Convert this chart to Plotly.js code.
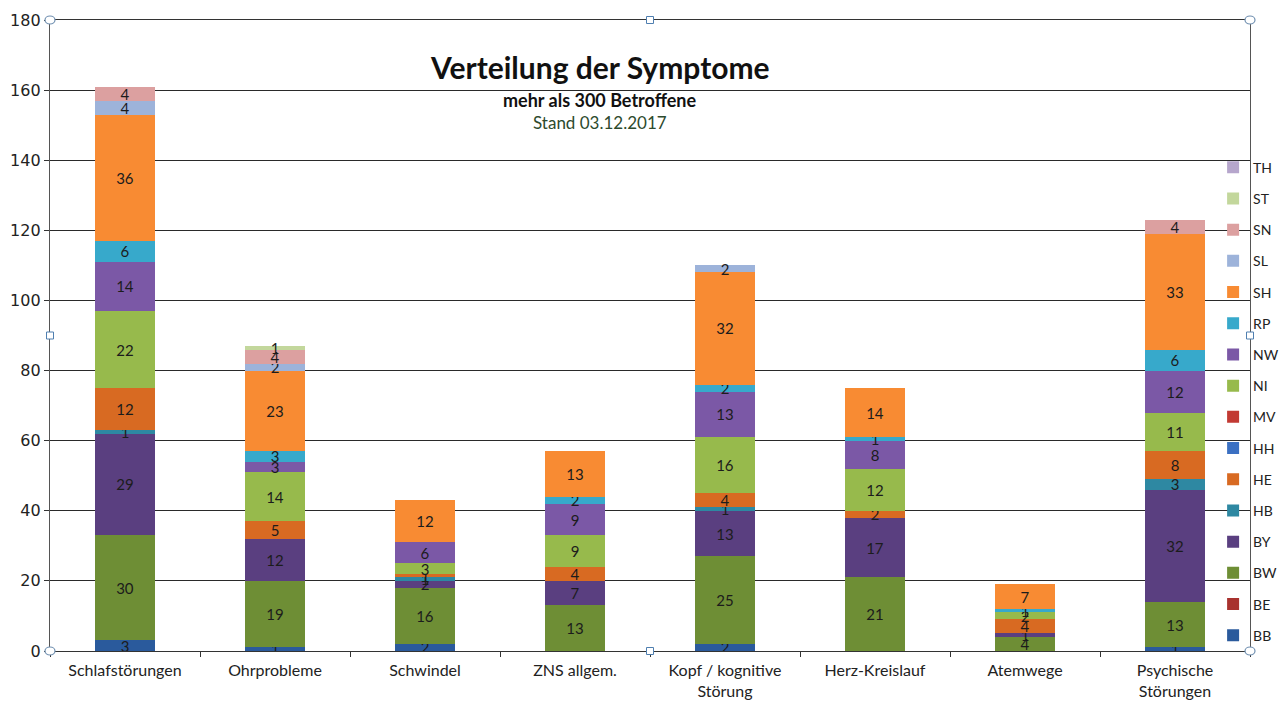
<!DOCTYPE html>
<html>
<head>
<meta charset="utf-8">
<script src="https://cdn.plot.ly/plotly-3.0.1.min.js"></script>
<style>html,body{margin:0;padding:0;background:#fff;}#chart{width:1281px;height:702px;}</style>
</head>
<body>
<div id="chart"></div>
<script>
// Categories (symptom groups)
const categories = ["Schlafstörungen", "Ohrprobleme", "Schwindel", "ZNS allgem.", "Kopf / kognitive<br>Störung", "Herz-Kreislauf", "Atemwege", "Psychische<br>Störungen"];

// Series (federal states), bottom to top in the stack
const seriesNames = ["BB","BE","BW","BY","HB","HE","HH","MV","NI","NW","RP","SH","SL","SN","ST","TH"];
const BB = [3, 1, 2, null, 2, null, null, 1];
const BE = [null, null, null, null, null, null, null, null];
const BW = [30, 19, 16, 13, 25, 21, 4, 13];
const BY = [29, 12, 2, 7, 13, 17, 1, 32];
const HB = [1, null, 1, null, 1, null, null, 3];
const HE = [12, 5, 1, 4, 4, 2, 4, 8];
const HH = [null, null, null, null, null, null, null, null];
const MV = [null, null, null, null, null, null, null, null];
const NI = [22, 14, 3, 9, 16, 12, 2, 11];
const NW = [14, 3, 6, 9, 13, 8, null, 12];
const RP = [6, 3, null, 2, 2, 1, 1, 6];
const SH = [36, 23, 12, 13, 32, 14, 7, 33];
const SL = [4, 2, null, null, 2, null, null, null];
const SN = [4, 4, null, null, null, null, null, 4];
const ST = [null, 1, null, null, null, null, null, null];
const TH = [null, null, null, null, null, null, null, null];
const seriesValues = {BB, BE, BW, BY, HB, HE, HH, MV, NI, NW, RP, SH, SL, SN, ST, TH};

const yTicks = [0, 20, 40, 60, 80, 100, 120, 140, 160, 180];

const colors = {
  BB: "#2A5A9C", BE: "#A8322E", BW: "#6E8E35", BY: "#5A3F80", HB: "#2E88A2",
  HE: "#D86A22", HH: "#3B70C2", MV: "#C23A33", NI: "#97BA4C", NW: "#7B58A6",
  RP: "#37A9CB", SH: "#F88B33", SL: "#9DB3DA", SN: "#DCA0A0", ST: "#C3D79C", TH: "#B6A6CC"
};

const font = "Lato, 'Open Sans', sans-serif";

const traces = seriesNames.map((name, i) => ({
  type: "bar",
  name: name,
  x: categories,
  y: seriesValues[name],
  text: seriesValues[name].map(v => v == null ? "" : String(v)),
  textposition: "inside",
  insidetextanchor: "middle",
  textangle: 0,
  constraintext: "none",
  textfont: {family: font, size: 15, color: "#1c1c1c"},
  marker: {color: colors[name], line: {width: 0}},
  legendgroup: "g" + i,
  legendrank: 100 - i,
  hoverinfo: "name+y"
}));

function handle(xp, yp, kind) {
  if (kind === "c") {
    return {type: "circle", xref: "paper", yref: "paper", xsizemode: "pixel", ysizemode: "pixel",
      xanchor: xp, yanchor: yp, x0: -5, x1: 5, y0: -4, y1: 4,
      line: {color: "#6f8fb0", width: 1.2}, fillcolor: "#ffffff", layer: "above"};
  }
  return {type: "rect", xref: "paper", yref: "paper", xsizemode: "pixel", ysizemode: "pixel",
    xanchor: xp, yanchor: yp, x0: -3.5, x1: 3.5, y0: -3.5, y1: 3.5,
    line: {color: "#4f7fb0", width: 1}, fillcolor: "#ffffff", layer: "above"};
}

const layout = {
  width: 1281, height: 702,
  margin: {l: 50, r: 31, t: 20, b: 51, autoexpand: false},
  paper_bgcolor: "#ffffff", plot_bgcolor: "#ffffff",
  barmode: "stack",
  bargap: 0.6,
  font: {family: font, size: 14, color: "#222"},
  showlegend: true,
  legend: {
    xref: "container", yref: "container",
    x: 0.947, xanchor: "left", y: 0.784, yanchor: "top",
    bgcolor: "rgba(0,0,0,0)", borderwidth: 0,
    font: {family: font, size: 14, color: "#222"},
    traceorder: "grouped", tracegroupgap: 10, itemwidth: 30,
    maxheight: 650
  },
  xaxis: {
    type: "category",
    showline: true, linecolor: "#333", linewidth: 1.2, mirror: true,
    ticks: "outside", tickson: "boundaries", ticklen: 5, tickcolor: "#333",
    ticklabelstandoff: 5,
    tickfont: {family: font, size: 16, color: "#222"},
    showgrid: false, zeroline: false, automargin: false
  },
  yaxis: {
    range: [0, 180], tickvals: yTicks, ticktext: yTicks.map(String),
    showline: true, linecolor: "#555", linewidth: 1.2, mirror: true,
    ticks: "outside", ticklen: 5, tickcolor: "#333",
    showgrid: true, gridcolor: "#2a2a2a", gridwidth: 1,
    zeroline: false,
    tickfont: {family: "'DejaVu Sans', sans-serif", size: 16, color: "#222"},
    automargin: false
  },
  annotations: [
    {text: "<b>Verteilung der Symptome</b>", xref: "paper", yref: "paper", x: 0.458, y: 0.926,
     showarrow: false, font: {family: font, size: 30, color: "#111"}, xanchor: "center", yanchor: "middle"},
    {text: "<b>mehr als 300 Betroffene</b>", xref: "paper", yref: "paper", x: 0.458, y: 0.874,
     showarrow: false, font: {family: font, size: 18, color: "#111"}, xanchor: "center", yanchor: "middle"},
    {text: "Stand 03.12.2017", xref: "paper", yref: "paper", x: 0.458, y: 0.838,
     showarrow: false, font: {family: font, size: 17, color: "#2d4a2d"}, xanchor: "center", yanchor: "middle"}
  ],
  shapes: [
    handle(0, 1, "c"), handle(0.5, 1, "r"), handle(1, 1, "c"),
    handle(0, 0.5, "r"), handle(1, 0.5, "r"),
    handle(0, 0, "c"), handle(0.5, 0, "r"), handle(1, 0, "c")
  ]
};

Plotly.newPlot("chart", traces, layout, {displayModeBar: false, staticPlot: true});
</script>
</body>
</html>
